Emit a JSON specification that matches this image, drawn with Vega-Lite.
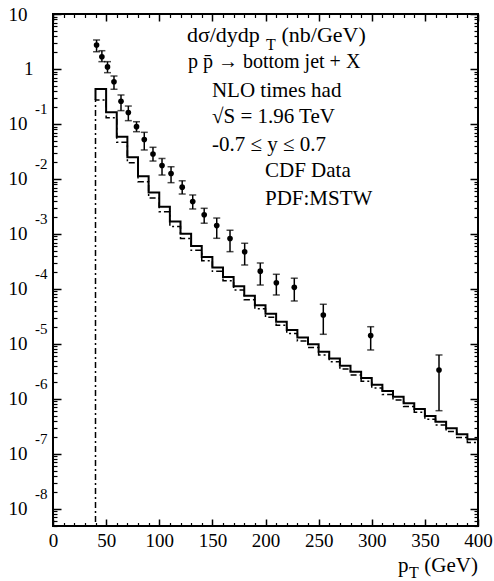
{
  "$schema": "https://vega.github.io/schema/vega-lite/v6.json",
  "width": 425,
  "height": 512,
  "autosize": {"type": "none"},
  "padding": {"left": 53, "top": 14, "right": 16, "bottom": 55},
  "background": "white",
  "config": {
    "view": {"stroke": "black", "strokeWidth": 2},
    "axis": {"domain": false, "grid": false, "tickColor": "black", "labelColor": "black", "labelFont": "Liberation Serif", "labelFontSize": 19, "labelFlush": false, "labelOverlap": false, "zindex": 2},
    "text": {"font": "Liberation Serif", "color": "black"}
  },
  "datasets": {
    "nlo": [
      {"x": 40, "y": 0.273}, {"x": 40, "y": 0.433}, {"x": 50, "y": 0.163}, {"x": 60, "y": 0.0588}, {"x": 70, "y": 0.0248},
      {"x": 80, "y": 0.01125}, {"x": 90, "y": 0.00569}, {"x": 100, "y": 0.00313}, {"x": 110, "y": 0.00169}, {"x": 120, "y": 0.00101},
      {"x": 130, "y": 0.000605}, {"x": 140, "y": 0.000382}, {"x": 150, "y": 0.000246}, {"x": 160, "y": 0.000165}, {"x": 170, "y": 0.000112},
      {"x": 180, "y": 7.52e-5}, {"x": 190, "y": 5.07e-5}, {"x": 200, "y": 3.56e-5}, {"x": 210, "y": 2.54e-5}, {"x": 220, "y": 1.80e-5},
      {"x": 230, "y": 1.31e-5}, {"x": 240, "y": 9.91e-6}, {"x": 250, "y": 7.24e-6}, {"x": 260, "y": 5.45e-6}, {"x": 270, "y": 4.03e-6},
      {"x": 280, "y": 3.13e-6}, {"x": 290, "y": 2.41e-6}, {"x": 300, "y": 1.82e-6}, {"x": 310, "y": 1.39e-6}, {"x": 320, "y": 1.10e-6},
      {"x": 330, "y": 8.36e-7}, {"x": 340, "y": 6.58e-7}, {"x": 350, "y": 4.91e-7}, {"x": 360, "y": 3.86e-7}, {"x": 370, "y": 2.93e-7},
      {"x": 380, "y": 2.28e-7}, {"x": 390, "y": 1.85e-7}, {"x": 400, "y": 1.85e-7}
    ],
    "nlo_alt": [
      {"x": 40, "y": 1e-9}, {"x": 40, "y": 0.273}, {"x": 50, "y": 0.130}, {"x": 60, "y": 0.0467}, {"x": 70, "y": 0.0197},
      {"x": 80, "y": 0.00893}, {"x": 90, "y": 0.00452}, {"x": 100, "y": 0.00255}, {"x": 110, "y": 0.00137}, {"x": 120, "y": 0.000832},
      {"x": 130, "y": 0.000504}, {"x": 140, "y": 0.000325}, {"x": 150, "y": 0.000209}, {"x": 160, "y": 0.000141}, {"x": 170, "y": 9.57e-5},
      {"x": 180, "y": 6.40e-5}, {"x": 190, "y": 4.37e-5}, {"x": 200, "y": 3.06e-5}, {"x": 210, "y": 2.19e-5}, {"x": 220, "y": 1.55e-5},
      {"x": 230, "y": 1.13e-5}, {"x": 240, "y": 8.63e-6}, {"x": 250, "y": 6.31e-6}, {"x": 260, "y": 4.74e-6}, {"x": 270, "y": 3.51e-6},
      {"x": 280, "y": 2.73e-6}, {"x": 290, "y": 2.10e-6}, {"x": 300, "y": 1.58e-6}, {"x": 310, "y": 1.21e-6}, {"x": 320, "y": 9.59e-7},
      {"x": 330, "y": 7.28e-7}, {"x": 340, "y": 5.73e-7}, {"x": 350, "y": 4.28e-7}, {"x": 360, "y": 3.37e-7}, {"x": 370, "y": 2.55e-7},
      {"x": 380, "y": 1.99e-7}, {"x": 390, "y": 1.61e-7}, {"x": 400, "y": 1.61e-7}
    ],
    "cdf": [
      {"x": 41, "y": 2.73, "lo": 2.06, "hi": 3.37},
      {"x": 46, "y": 1.67, "lo": 1.36, "hi": 2.15},
      {"x": 51.3, "y": 1.09, "lo": 0.857, "hi": 1.36},
      {"x": 57.4, "y": 0.587, "lo": 0.428, "hi": 0.746},
      {"x": 64, "y": 0.259, "lo": 0.175, "hi": 0.337},
      {"x": 70.9, "y": 0.162, "lo": 0.115, "hi": 0.212},
      {"x": 78.6, "y": 0.0893, "lo": 0.0724, "hi": 0.110},
      {"x": 85.9, "y": 0.0523, "lo": 0.0337, "hi": 0.0706},
      {"x": 94.1, "y": 0.0285, "lo": 0.0212, "hi": 0.0377},
      {"x": 102.6, "y": 0.0176, "lo": 0.0118, "hi": 0.0236},
      {"x": 111.1, "y": 0.0126, "lo": 0.00857, "hi": 0.0167},
      {"x": 121.6, "y": 0.0071, "lo": 0.00533, "hi": 0.00927},
      {"x": 131.5, "y": 0.0039, "lo": 0.00285, "hi": 0.00512},
      {"x": 142.3, "y": 0.00224, "lo": 0.00157, "hi": 0.00293},
      {"x": 154.1, "y": 0.00142, "lo": 0.000835, "hi": 0.00195},
      {"x": 166.6, "y": 0.000828, "lo": 0.000477, "hi": 0.00117},
      {"x": 180.4, "y": 0.000475, "lo": 0.000273, "hi": 0.000678},
      {"x": 195.1, "y": 0.000211, "lo": 0.000118, "hi": 0.000297},
      {"x": 210.2, "y": 0.000130, "lo": 7.78e-5, "hi": 0.000185},
      {"x": 227.1, "y": 0.000107, "lo": 6.05e-5, "hi": 0.000157},
      {"x": 254.4, "y": 3.37e-5, "lo": 1.5e-5, "hi": 5.27e-5},
      {"x": 299, "y": 1.42e-5, "lo": 7.78e-6, "hi": 2.06e-5},
      {"x": 363.3, "y": 3.37e-6, "lo": 6.12e-7, "hi": 6.31e-6}
    ],
    "heading": [
      {"text": "dσ/dydp", "x": 126, "y": 3.1},
      {"text": "(nb/GeV)", "x": 215, "y": 3.1}
    ],
    "process": [
      {"text": "p p̄ → bottom jet + X", "x": 127, "y": 1.04}
    ],
    "notes": [
      {"text": "NLO times had", "x": 149.6, "y": 0.31},
      {"text": "√S = 1.96 TeV", "x": 149.6, "y": 0.104},
      {"text": "-0.7 ≤ y ≤ 0.7", "x": 149.6, "y": 0.0323},
      {"text": "CDF Data", "x": 199.5, "y": 0.01086},
      {"text": "PDF:MSTW", "x": 199.5, "y": 0.00337},
      {"text": "p", "x": 324.7, "y": 7.16e-10},
      {"text": "(GeV)", "x": 349.5, "y": 7.16e-10}
    ],
    "subs": [
      {"text": "T", "x": 200.5, "y": 2.2},
      {"text": "T", "x": 335, "y": 5.56e-10}
    ]
  },
  "resolve": {"axis": {"x": "independent", "y": "independent"}},
  "layer": [
    {
      "data": {"name": "nlo"},
      "mark": {"type": "line", "interpolate": "step-after", "color": "black", "strokeWidth": 2, "clip": true},
      "encoding": {
        "x": {"field": "x", "type": "quantitative", "scale": {"domain": [0, 400], "nice": false, "zero": false},
              "axis": {"title": null, "orient": "bottom", "values": [0, 50, 100, 150, 200, 250, 300, 350, 400], "ticks": false, "labelPadding": 5}},
        "y": {"field": "y", "type": "quantitative", "scale": {"type": "log", "domain": [4.9e-9, 10], "nice": false},
              "axis": {"title": null, "orient": "left", "values": [1e-8, 1e-7, 1e-6, 1e-5, 1e-4, 1e-3, 1e-2, 1e-1, 10], "labelExpr": "'10'", "ticks": false, "labelPadding": 26}}
      }
    },
    {
      "data": {"name": "nlo_alt"},
      "mark": {"type": "line", "interpolate": "step-after", "color": "black", "strokeWidth": 1.5, "strokeDash": [6, 3, 2, 3], "clip": true},
      "encoding": {
        "x": {"field": "x", "type": "quantitative", "scale": {"domain": [0, 400], "nice": false, "zero": false},
              "axis": {"title": null, "orient": "bottom", "values": [0, 50, 100, 150, 200, 250, 300, 350, 400], "labelOpacity": 0, "ticks": true, "tickSize": -7, "tickWidth": 1.5}},
        "y": {"field": "y", "type": "quantitative", "scale": {"type": "log", "domain": [4.9e-9, 10], "nice": false},
              "axis": {"title": null, "orient": "left", "values": [1e-8, 1e-7, 1e-6, 1e-5, 1e-4, 1e-3, 1e-2, 1e-1, 1, 10], "labelOpacity": 0, "ticks": true, "tickSize": -8, "tickWidth": 1.5}}
      }
    },
    {
      "data": {"name": "cdf"},
      "mark": {"type": "rule", "color": "black", "strokeWidth": 1.5},
      "encoding": {
        "x": {"field": "x", "type": "quantitative", "scale": {"domain": [0, 400], "nice": false, "zero": false},
              "axis": {"title": null, "orient": "bottom", "values": [10, 20, 30, 40, 60, 70, 80, 90, 110, 120, 130, 140, 160, 170, 180, 190, 210, 220, 230, 240, 260, 270, 280, 290, 310, 320, 330, 340, 360, 370, 380, 390], "labelOpacity": 0, "ticks": true, "tickSize": -3.5, "tickWidth": 1.2}},
        "y": {"field": "lo", "type": "quantitative", "scale": {"type": "log", "domain": [4.9e-9, 10], "nice": false},
              "axis": {"title": null, "orient": "left", "values": [5e-9, 6e-9, 7e-9, 8e-9, 9e-9, 2e-8, 3e-8, 4e-8, 5e-8, 6e-8, 7e-8, 8e-8, 9e-8, 2e-7, 3e-7, 4e-7, 5e-7, 6e-7, 7e-7, 8e-7, 9e-7, 2e-6, 3e-6, 4e-6, 5e-6, 6e-6, 7e-6, 8e-6, 9e-6, 2e-5, 3e-5, 4e-5, 5e-5, 6e-5, 7e-5, 8e-5, 9e-5, 2e-4, 3e-4, 4e-4, 5e-4, 6e-4, 7e-4, 8e-4, 9e-4, 2e-3, 3e-3, 4e-3, 5e-3, 6e-3, 7e-3, 8e-3, 9e-3, 2e-2, 3e-2, 4e-2, 5e-2, 6e-2, 7e-2, 8e-2, 9e-2, 0.2, 0.3, 0.4, 0.5, 0.6, 0.7, 0.8, 0.9, 2, 3, 4, 5, 6, 7, 8, 9], "labelOpacity": 0, "ticks": true, "tickSize": -4, "tickWidth": 1.2}},
        "y2": {"field": "hi"}
      }
    },
    {
      "data": {"name": "cdf"},
      "transform": [{"fold": ["lo", "hi"], "as": ["end", "v"]}],
      "mark": {"type": "tick", "orient": "horizontal", "size": 7, "thickness": 1.5, "color": "black"},
      "encoding": {
        "x": {"field": "x", "type": "quantitative", "scale": {"domain": [0, 400], "nice": false, "zero": false},
              "axis": {"title": null, "orient": "top", "values": [0, 50, 100, 150, 200, 250, 300, 350, 400], "labelOpacity": 0, "ticks": true, "tickSize": -7, "tickWidth": 1.5}},
        "y": {"field": "v", "type": "quantitative", "scale": {"type": "log", "domain": [4.9e-9, 10], "nice": false},
              "axis": {"title": null, "orient": "right", "values": [1e-8, 1e-7, 1e-6, 1e-5, 1e-4, 1e-3, 1e-2, 1e-1, 1, 10], "labelOpacity": 0, "ticks": true, "tickSize": -8, "tickWidth": 1.5}}
      }
    },
    {
      "data": {"name": "cdf"},
      "mark": {"type": "circle", "size": 32, "color": "black", "opacity": 1},
      "encoding": {
        "x": {"field": "x", "type": "quantitative", "scale": {"domain": [0, 400], "nice": false, "zero": false},
              "axis": {"title": null, "orient": "top", "values": [10, 20, 30, 40, 60, 70, 80, 90, 110, 120, 130, 140, 160, 170, 180, 190, 210, 220, 230, 240, 260, 270, 280, 290, 310, 320, 330, 340, 360, 370, 380, 390], "labelOpacity": 0, "ticks": true, "tickSize": -3.5, "tickWidth": 1.2}},
        "y": {"field": "y", "type": "quantitative", "scale": {"type": "log", "domain": [4.9e-9, 10], "nice": false},
              "axis": {"title": null, "orient": "right", "values": [5e-9, 6e-9, 7e-9, 8e-9, 9e-9, 2e-8, 3e-8, 4e-8, 5e-8, 6e-8, 7e-8, 8e-8, 9e-8, 2e-7, 3e-7, 4e-7, 5e-7, 6e-7, 7e-7, 8e-7, 9e-7, 2e-6, 3e-6, 4e-6, 5e-6, 6e-6, 7e-6, 8e-6, 9e-6, 2e-5, 3e-5, 4e-5, 5e-5, 6e-5, 7e-5, 8e-5, 9e-5, 2e-4, 3e-4, 4e-4, 5e-4, 6e-4, 7e-4, 8e-4, 9e-4, 2e-3, 3e-3, 4e-3, 5e-3, 6e-3, 7e-3, 8e-3, 9e-3, 2e-2, 3e-2, 4e-2, 5e-2, 6e-2, 7e-2, 8e-2, 9e-2, 0.2, 0.3, 0.4, 0.5, 0.6, 0.7, 0.8, 0.9, 2, 3, 4, 5, 6, 7, 8, 9], "labelOpacity": 0, "ticks": true, "tickSize": -4, "tickWidth": 1.2}}
      }
    },
    {
      "data": {"name": "heading"},
      "mark": {"type": "text", "align": "left", "baseline": "alphabetic", "fontSize": 22},
      "encoding": {
        "x": {"field": "x", "type": "quantitative", "scale": {"domain": [0, 400], "nice": false, "zero": false}, "axis": null},
        "y": {"field": "y", "type": "quantitative", "scale": {"type": "log", "domain": [4.9e-9, 10], "nice": false},
              "axis": {"title": null, "orient": "left", "values": [1e-8, 1e-7, 1e-6, 1e-5, 1e-4, 1e-3, 1e-2, 1e-1], "labelExpr": "'' + round(log(datum.value) / LN10)", "ticks": false, "labelPadding": 6, "labelOffset": -15, "labelFontSize": 15}},
        "text": {"field": "text"}
      }
    },
    {
      "data": {"name": "process"},
      "mark": {"type": "text", "align": "left", "baseline": "alphabetic", "fontSize": 20},
      "encoding": {
        "x": {"field": "x", "type": "quantitative", "scale": {"domain": [0, 400], "nice": false, "zero": false}, "axis": null},
        "y": {"field": "y", "type": "quantitative", "scale": {"type": "log", "domain": [4.9e-9, 10], "nice": false}, "axis": null},
        "text": {"field": "text"}
      }
    },
    {
      "data": {"name": "notes"},
      "mark": {"type": "text", "align": "left", "baseline": "alphabetic", "fontSize": 21},
      "encoding": {
        "x": {"field": "x", "type": "quantitative", "scale": {"domain": [0, 400], "nice": false, "zero": false}, "axis": null},
        "y": {"field": "y", "type": "quantitative", "scale": {"type": "log", "domain": [4.9e-9, 10], "nice": false},
              "axis": {"title": null, "orient": "left", "values": [1], "labelExpr": "'1'", "ticks": false, "labelPadding": 20}},
        "text": {"field": "text"}
      }
    },
    {
      "data": {"name": "subs"},
      "mark": {"type": "text", "align": "left", "baseline": "alphabetic", "fontSize": 16},
      "encoding": {
        "x": {"field": "x", "type": "quantitative", "scale": {"domain": [0, 400], "nice": false, "zero": false}, "axis": null},
        "y": {"field": "y", "type": "quantitative", "scale": {"type": "log", "domain": [4.9e-9, 10], "nice": false}, "axis": null},
        "text": {"field": "text"}
      }
    }
  ]
}
